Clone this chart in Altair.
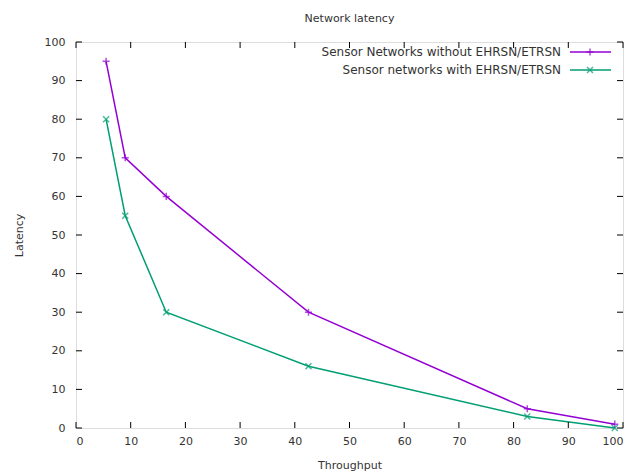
import altair as alt
import pandas as pd

throughput = [5.5, 9.0, 16.5, 42.5, 82.5, 98.5]
lat_without = [95, 70, 60, 30, 5, 1]
lat_with = [80, 55, 30, 16, 3, 0]
series = ["Sensor Networks without EHRSN/ETRSN", "Sensor networks with EHRSN/ETRSN"]
colors = ["#9400d3", "#009e73"]
ticks = [0, 10, 20, 30, 40, 50, 60, 70, 80, 90, 100]

rows = []
for x, y in zip(throughput, lat_without):
    rows.append({"x": x, "y": y, "s": series[0]})
for x, y in zip(throughput, lat_with):
    rows.append({"x": x, "y": y, "s": series[1]})
df = pd.DataFrame(rows)
tdf = pd.DataFrame({"t": ticks})

W, H = 547, 386
FONT = "DejaVu Sans"
FS = 11
TC = "#333"

xs = alt.Scale(domain=[0, 100], nice=False)
ys = alt.Scale(domain=[0, 100], nice=False)
cs = alt.Scale(domain=series, range=colors)

xa = alt.Axis(values=ticks, title="Throughput", grid=False, domain=False,
              ticks=False, labelPadding=7, titlePadding=13, labelOverlap=False,
              labelFont=FONT, labelFontSize=FS, labelColor=TC,
              titleFont=FONT, titleFontSize=FS, titleFontWeight="normal", titleColor=TC)
ya = alt.Axis(values=ticks, title="Latency", grid=False, domain=False,
              ticks=False, labelPadding=11, titlePadding=20, labelOverlap=False,
              labelFont=FONT, labelFontSize=FS, labelColor=TC,
              titleFont=FONT, titleFontSize=FS, titleFontWeight="normal", titleColor=TC)

XA = lambda f: alt.X(f, scale=xs, axis=xa, title="Throughput")
YA = lambda f: alt.Y(f, scale=ys, axis=ya, title="Latency")

plus = "M-1,0L1,0M0,-1L0,1"
cross = "M-1,-1L1,1M-1,1L1,-1"

lines = alt.Chart(df).mark_line(strokeWidth=1.5).encode(
    x=XA("x:Q"), y=YA("y:Q"),
    color=alt.Color("s:N", scale=cs, legend=None),
    detail="s:N",
)

pts1 = alt.Chart(df[df.s == series[0]]).mark_point(shape=plus, size=50, strokeWidth=1.5, filled=False).encode(
    x=XA("x:Q"), y=YA("y:Q"), color=alt.Color("s:N", scale=cs, legend=None))
pts2 = alt.Chart(df[df.s == series[1]]).mark_point(shape=cross, size=36, strokeWidth=1.5, filled=False).encode(
    x=XA("x:Q"), y=YA("y:Q"), color=alt.Color("s:N", scale=cs, legend=None))

tick_b = alt.Chart(tdf).mark_rule(color="black", strokeWidth=1).encode(
    x=XA("t:Q"), y=alt.value(H), y2=alt.value(H - 6))
tick_t = alt.Chart(tdf).mark_rule(color="black", strokeWidth=1).encode(
    x=XA("t:Q"), y=alt.value(0), y2=alt.value(6))
tick_l = alt.Chart(tdf).mark_rule(color="black", strokeWidth=1).encode(
    y=YA("t:Q"), x=alt.value(0), x2=alt.value(6))
tick_r = alt.Chart(tdf).mark_rule(color="black", strokeWidth=1).encode(
    y=YA("t:Q"), x=alt.value(W), x2=alt.value(W - 6))

ldf0 = pd.DataFrame({"s": [series[0]]})
ldf1 = pd.DataFrame({"s": [series[1]]})
legend_layers = []
for ldf, yy, shp, sz in [(ldf0, 10, plus, 50), (ldf1, 28, cross, 36)]:
    legend_layers.append(alt.Chart(ldf).mark_text(align="right", baseline="middle", font=FONT, fontSize=12,
                                                  color=TC).encode(
        x=alt.value(485), y=alt.value(yy), text="s:N"))
    legend_layers.append(alt.Chart(ldf).mark_rule(strokeWidth=1.5).encode(
        x=alt.value(494), x2=alt.value(535), y=alt.value(yy), color=alt.Color("s:N", scale=cs, legend=None)))
    legend_layers.append(alt.Chart(ldf).mark_point(shape=shp, size=sz, strokeWidth=1.5, filled=False).encode(
        x=alt.value(514), y=alt.value(yy), color=alt.Color("s:N", scale=cs, legend=None)))

chart = alt.layer(lines, pts1, pts2, tick_b, tick_t, tick_l, tick_r, *legend_layers).properties(
    width=W, height=H,
    title=alt.Title("Network latency", font=FONT, fontSize=FS, fontWeight="normal", color=TC, offset=12),
    autosize=alt.AutoSizeParams(type="none"),
    padding={"left": 68, "top": 34, "right": 5, "bottom": 46},
).configure_view(stroke="black", strokeWidth=1).configure(background="white")

chart.save("out.html", embed_options={"renderer": "svg", "actions": False})
